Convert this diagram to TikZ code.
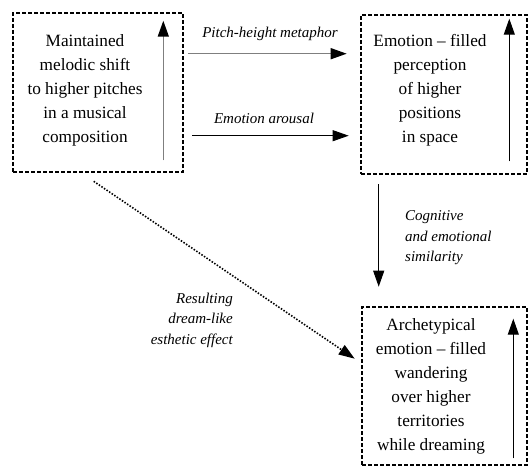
\documentclass[tikz,border=0pt]{standalone}
\usepackage{fontspec}
\setmainfont{Liberation Serif}
\usepackage{tikz}
\usetikzlibrary{arrows.meta, positioning}
\definecolor{arrowgray}{HTML}{7F7F7F}

\begin{document}
\begin{tikzpicture}[x=1pt, y=-1pt,
  box/.style={rectangle, draw=black, line width=2.6pt,
    dash pattern=on 3.6pt off 2.4pt, inner sep=0pt},
  txt/.style={align=center, inner sep=0pt,
    font=\fontsize{17.25}{24}\selectfont},
  lbl/.style={inner sep=0pt, font=\fontsize{15}{20.5}\selectfont\itshape},
  arrow/.style={-{Triangle[length=16pt, width=11pt]}, line width=1pt},
  grayarrow/.style={-{Triangle[length=16pt, width=11pt, black]},
    draw=arrowgray, line width=1.5pt},
  dotline/.style={arrow, line width=1.6pt, dash pattern=on 1.5pt off 1.6pt}
]
  \useasboundingbox (0,0) rectangle (529,468);

  % the three boxes
  \node[box, minimum width=170pt, minimum height=159pt] (a) at (98,92.5) {};
  \node[box, minimum width=166pt, minimum height=159pt] (b) at (444,94.5) {};
  \node[box, minimum width=165pt, minimum height=158pt] (c) at (444.5,386) {};

  \node[txt] (atxt) at ([xshift=-13pt, yshift=2.5pt]a.center)
    {Maintained\\ melodic shift\\ to higher pitches\\ in a musical\\ composition};
  \node[txt] (btxt) at ([xshift=-14pt, yshift=4.5pt]b.center)
    {Emotion -- filled\\ perception\\ of higher\\ positions\\ in space};
  \node[txt] (ctxt) at ([xshift=-13.5pt]c.center)
    {Archetypical\\ emotion -- filled\\ wandering\\ over higher\\ territories\\ while dreaming};

  % arrows inside the boxes
  \draw[grayarrow] ([shift={(-21,-13)}]a.south east) -- ([shift={(-21,9)}]a.north east);
  \draw[arrow] ([shift={(-19,-14)}]b.south east) -- ([shift={(-19,5)}]b.north east);
  \draw[arrow] ([shift={(-15,-8)}]c.south east) -- ([shift={(-15,13)}]c.north east);

  % links between the boxes
  \draw[grayarrow] ([shift={(4,42)}]a.north east) -- ([shift={(-13,40)}]b.north west);
  \draw[arrow] ([shift={(8,124)}]a.north east) -- ([shift={(-11,122)}]b.north west);
  \draw[arrow] ([shift={(19,9)}]b.south west) -- ([shift={(18,-19)}]c.north west);
  \draw[dotline] ([shift={(82,8)}]a.south west) -- ([shift={(-6,53)}]c.north west);

  % labels
  \node[lbl] (pitch) at (270,34) {Pitch-height metaphor};
  \node[lbl] (arousal) at (264,118) {Emotion arousal};
  \node[lbl, align=left, anchor=west] (cogn) at (405,238)
    {Cognitive\\ and emotional\\ similarity};
  \node[lbl, align=right, anchor=east] (dream) at (233,320)
    {Resulting\\ dream-like\\ esthetic effect};
\end{tikzpicture}
\end{document}
